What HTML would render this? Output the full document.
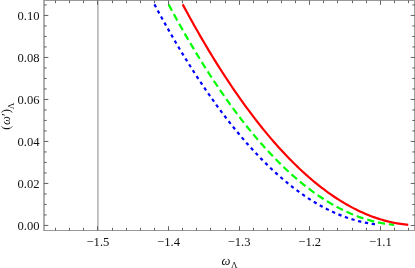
<!DOCTYPE html>
<html><head><meta charset="utf-8"><style>
html,body{margin:0;padding:0;background:#fff;}
svg{display:block;will-change:transform;transform:translateZ(0);}
text{font-family:"Liberation Serif",serif;font-size:12.6px;fill:#111;}
</style></head><body>
<svg width="415" height="268" viewBox="0 0 415 268">
<rect width="415" height="268" fill="#fff"/>
<line x1="97.95" y1="0.5" x2="97.95" y2="230.5" stroke="#898989" stroke-width="1"/>
<g fill="none" stroke-linecap="butt" stroke-width="2.2">
<path d="M154.43 4.38 L156.28 7.82 L158.12 11.23 L159.97 14.61 L161.82 17.96 L163.66 21.29 L165.51 24.59 L167.35 27.86 L169.20 31.11 L171.05 34.33 L172.89 37.52 L174.74 40.69 L176.59 43.83 L178.43 46.94 L180.28 50.02 L182.13 53.08 L183.97 56.11 L185.82 59.12 L187.67 62.09 L189.51 65.04 L191.36 67.97 L193.20 70.86 L195.05 73.73 L196.90 76.58 L198.74 79.39 L200.59 82.18 L202.44 84.94 L204.28 87.68 L206.13 90.39 L207.98 93.07 L209.82 95.72 L211.67 98.35 L213.52 100.95 L215.36 103.52 L217.21 106.07 L219.05 108.59 L220.90 111.08 L222.75 113.55 L224.59 115.99 L226.44 118.40 L228.29 120.78 L230.13 123.14 L231.98 125.47 L233.83 127.78 L235.67 130.06 L237.52 132.31 L239.37 134.53 L241.21 136.73 L243.06 138.90 L244.90 141.04 L246.75 143.15 L248.60 145.24 L250.44 147.31 L252.29 149.34 L254.14 151.35 L255.98 153.33 L257.83 155.29 L259.68 157.21 L261.52 159.11 L263.37 160.99 L265.21 162.83 L267.06 164.65 L268.91 166.45 L270.75 168.21 L272.60 169.95 L274.45 171.66 L276.29 173.35 L278.14 175.01 L279.99 176.64 L281.83 178.24 L283.68 179.82 L285.53 181.37 L287.37 182.90 L289.22 184.39 L291.06 185.86 L292.91 187.31 L294.76 188.72 L296.60 190.11 L298.45 191.47 L300.30 192.81 L302.14 194.12 L303.99 195.40 L305.84 196.65 L307.68 197.88 L309.53 199.08 L311.38 200.26 L313.22 201.40 L315.07 202.52 L316.91 203.62 L318.76 204.68 L320.61 205.72 L322.45 206.73 L324.30 207.72 L326.15 208.68 L327.99 209.61 L329.84 210.51 L331.69 211.39 L333.53 212.24 L335.38 213.07 L337.23 213.86 L339.07 214.63 L340.92 215.38 L342.76 216.09 L344.61 216.78 L346.46 217.44 L348.30 218.08 L350.15 218.69 L352.00 219.27 L353.84 219.82 L355.69 220.35 L357.54 220.85 L359.38 221.33 L361.23 221.77 L363.08 222.19 L364.92 222.59 L366.77 222.95 L368.61 223.29 L370.46 223.61 L372.31 223.89 L374.15 224.15 L376.00 224.38" stroke="#0000ff" stroke-dasharray="3.3 3.63"/>
<path d="M168.55 4.38 L170.43 7.88 L172.31 11.35 L174.19 14.79 L176.07 18.21 L177.95 21.59 L179.83 24.95 L181.71 28.28 L183.59 31.58 L185.47 34.86 L187.35 38.10 L189.23 41.32 L191.11 44.51 L192.99 47.67 L194.87 50.81 L196.75 53.92 L198.63 57.00 L200.51 60.05 L202.39 63.07 L204.27 66.06 L206.15 69.03 L208.04 71.97 L209.92 74.88 L211.80 77.77 L213.68 80.62 L215.56 83.45 L217.44 86.25 L219.32 89.02 L221.20 91.76 L223.08 94.48 L224.96 97.17 L226.84 99.83 L228.72 102.46 L230.60 105.07 L232.48 107.64 L234.36 110.19 L236.24 112.71 L238.12 115.20 L240.00 117.67 L241.88 120.11 L243.76 122.52 L245.64 124.90 L247.52 127.25 L249.40 129.57 L251.28 131.87 L253.16 134.14 L255.04 136.38 L256.92 138.60 L258.80 140.78 L260.68 142.94 L262.56 145.07 L264.44 147.17 L266.32 149.25 L268.20 151.29 L270.08 153.31 L271.96 155.30 L273.84 157.26 L275.72 159.20 L277.60 161.10 L279.48 162.98 L281.37 164.83 L283.25 166.66 L285.13 168.45 L287.01 170.22 L288.89 171.96 L290.77 173.67 L292.65 175.35 L294.53 177.01 L296.41 178.63 L298.29 180.23 L300.17 181.81 L302.05 183.35 L303.93 184.87 L305.81 186.35 L307.69 187.81 L309.57 189.24 L311.45 190.65 L313.33 192.03 L315.21 193.37 L317.09 194.69 L318.97 195.99 L320.85 197.25 L322.73 198.49 L324.61 199.70 L326.49 200.88 L328.37 202.03 L330.25 203.16 L332.13 204.25 L334.01 205.32 L335.89 206.36 L337.77 207.38 L339.65 208.36 L341.53 209.32 L343.41 210.25 L345.29 211.15 L347.17 212.02 L349.05 212.87 L350.93 213.69 L352.81 214.48 L354.69 215.24 L356.58 215.97 L358.46 216.68 L360.34 217.36 L362.22 218.01 L364.10 218.63 L365.98 219.23 L367.86 219.79 L369.74 220.33 L371.62 220.84 L373.50 221.33 L375.38 221.78 L377.26 222.21 L379.14 222.61 L381.02 222.98 L382.90 223.32 L384.78 223.64 L386.66 223.93 L388.54 224.19 L390.42 224.42 L392.30 224.62 L394.18 224.80" stroke="#00ff00" stroke-dasharray="7.2 3.9"/>
<path d="M182.67 4.38 L184.55 7.88 L186.43 11.35 L188.31 14.79 L190.19 18.21 L192.07 21.59 L193.95 24.95 L195.83 28.28 L197.71 31.58 L199.59 34.86 L201.47 38.10 L203.35 41.32 L205.23 44.51 L207.11 47.67 L208.99 50.81 L210.87 53.92 L212.75 57.00 L214.63 60.05 L216.51 63.07 L218.39 66.06 L220.27 69.03 L222.16 71.97 L224.04 74.88 L225.92 77.77 L227.80 80.62 L229.68 83.45 L231.56 86.25 L233.44 89.02 L235.32 91.76 L237.20 94.48 L239.08 97.17 L240.96 99.83 L242.84 102.46 L244.72 105.07 L246.60 107.64 L248.48 110.19 L250.36 112.71 L252.24 115.20 L254.12 117.67 L256.00 120.11 L257.88 122.52 L259.76 124.90 L261.64 127.25 L263.52 129.57 L265.40 131.87 L267.28 134.14 L269.16 136.38 L271.04 138.60 L272.92 140.78 L274.80 142.94 L276.68 145.07 L278.56 147.17 L280.44 149.25 L282.32 151.29 L284.20 153.31 L286.08 155.30 L287.96 157.26 L289.84 159.20 L291.72 161.10 L293.60 162.98 L295.49 164.83 L297.37 166.66 L299.25 168.45 L301.13 170.22 L303.01 171.96 L304.89 173.67 L306.77 175.35 L308.65 177.01 L310.53 178.63 L312.41 180.23 L314.29 181.81 L316.17 183.35 L318.05 184.87 L319.93 186.35 L321.81 187.81 L323.69 189.24 L325.57 190.65 L327.45 192.03 L329.33 193.37 L331.21 194.69 L333.09 195.99 L334.97 197.25 L336.85 198.49 L338.73 199.70 L340.61 200.88 L342.49 202.03 L344.37 203.16 L346.25 204.25 L348.13 205.32 L350.01 206.36 L351.89 207.38 L353.77 208.36 L355.65 209.32 L357.53 210.25 L359.41 211.15 L361.29 212.02 L363.17 212.87 L365.05 213.69 L366.93 214.48 L368.81 215.24 L370.70 215.97 L372.58 216.68 L374.46 217.36 L376.34 218.01 L378.22 218.63 L380.10 219.23 L381.98 219.79 L383.86 220.33 L385.74 220.84 L387.62 221.33 L389.50 221.78 L391.38 222.21 L393.26 222.61 L395.14 222.98 L397.02 223.32 L398.90 223.64 L400.78 223.93 L402.66 224.19 L404.54 224.42 L406.42 224.62 L408.30 224.80" stroke="#ff0000"/>
</g>
<g stroke="#616161" stroke-width="1">
<line x1="44.0" y1="0" x2="44.0" y2="231"/>
<line x1="414.5" y1="0" x2="414.5" y2="231" stroke="#a0a0a0"/>
<line x1="43.5" y1="0.5" x2="415" y2="0.5" stroke="#999"/>
<line x1="43.5" y1="230.5" x2="415" y2="230.5" stroke="#999"/>
<line x1="55.50" y1="230.50" x2="55.50" y2="227.80"/><line x1="55.50" y1="0.50" x2="55.50" y2="3.20"/><line x1="69.50" y1="230.50" x2="69.50" y2="227.80"/><line x1="69.50" y1="0.50" x2="69.50" y2="3.20"/><line x1="83.50" y1="230.50" x2="83.50" y2="227.80"/><line x1="83.50" y1="0.50" x2="83.50" y2="3.20"/><line x1="97.50" y1="230.50" x2="97.50" y2="226.20"/><line x1="97.50" y1="0.50" x2="97.50" y2="4.80"/><line x1="112.50" y1="230.50" x2="112.50" y2="227.80"/><line x1="112.50" y1="0.50" x2="112.50" y2="3.20"/><line x1="126.50" y1="230.50" x2="126.50" y2="227.80"/><line x1="126.50" y1="0.50" x2="126.50" y2="3.20"/><line x1="140.50" y1="230.50" x2="140.50" y2="227.80"/><line x1="140.50" y1="0.50" x2="140.50" y2="3.20"/><line x1="154.50" y1="230.50" x2="154.50" y2="227.80"/><line x1="154.50" y1="0.50" x2="154.50" y2="3.20"/><line x1="168.50" y1="230.50" x2="168.50" y2="226.20"/><line x1="168.50" y1="0.50" x2="168.50" y2="4.80"/><line x1="182.50" y1="230.50" x2="182.50" y2="227.80"/><line x1="182.50" y1="0.50" x2="182.50" y2="3.20"/><line x1="196.50" y1="230.50" x2="196.50" y2="227.80"/><line x1="196.50" y1="0.50" x2="196.50" y2="3.20"/><line x1="210.50" y1="230.50" x2="210.50" y2="227.80"/><line x1="210.50" y1="0.50" x2="210.50" y2="3.20"/><line x1="225.50" y1="230.50" x2="225.50" y2="227.80"/><line x1="225.50" y1="0.50" x2="225.50" y2="3.20"/><line x1="239.50" y1="230.50" x2="239.50" y2="226.20"/><line x1="239.50" y1="0.50" x2="239.50" y2="4.80"/><line x1="253.50" y1="230.50" x2="253.50" y2="227.80"/><line x1="253.50" y1="0.50" x2="253.50" y2="3.20"/><line x1="267.50" y1="230.50" x2="267.50" y2="227.80"/><line x1="267.50" y1="0.50" x2="267.50" y2="3.20"/><line x1="281.50" y1="230.50" x2="281.50" y2="227.80"/><line x1="281.50" y1="0.50" x2="281.50" y2="3.20"/><line x1="295.50" y1="230.50" x2="295.50" y2="227.80"/><line x1="295.50" y1="0.50" x2="295.50" y2="3.20"/><line x1="309.50" y1="230.50" x2="309.50" y2="226.20"/><line x1="309.50" y1="0.50" x2="309.50" y2="4.80"/><line x1="323.50" y1="230.50" x2="323.50" y2="227.80"/><line x1="323.50" y1="0.50" x2="323.50" y2="3.20"/><line x1="337.50" y1="230.50" x2="337.50" y2="227.80"/><line x1="337.50" y1="0.50" x2="337.50" y2="3.20"/><line x1="352.50" y1="230.50" x2="352.50" y2="227.80"/><line x1="352.50" y1="0.50" x2="352.50" y2="3.20"/><line x1="366.50" y1="230.50" x2="366.50" y2="227.80"/><line x1="366.50" y1="0.50" x2="366.50" y2="3.20"/><line x1="380.50" y1="230.50" x2="380.50" y2="226.20"/><line x1="380.50" y1="0.50" x2="380.50" y2="4.80"/><line x1="394.50" y1="230.50" x2="394.50" y2="227.80"/><line x1="394.50" y1="0.50" x2="394.50" y2="3.20"/><line x1="408.50" y1="230.50" x2="408.50" y2="227.80"/><line x1="408.50" y1="0.50" x2="408.50" y2="3.20"/><line x1="44.00" y1="225.45" x2="48.30" y2="225.45"/><line x1="415.00" y1="225.45" x2="410.70" y2="225.45"/><line x1="44.00" y1="214.95" x2="46.70" y2="214.95"/><line x1="415.00" y1="214.95" x2="412.30" y2="214.95"/><line x1="44.00" y1="204.45" x2="46.70" y2="204.45"/><line x1="415.00" y1="204.45" x2="412.30" y2="204.45"/><line x1="44.00" y1="193.95" x2="46.70" y2="193.95"/><line x1="415.00" y1="193.95" x2="412.30" y2="193.95"/><line x1="44.00" y1="183.45" x2="48.30" y2="183.45"/><line x1="415.00" y1="183.45" x2="410.70" y2="183.45"/><line x1="44.00" y1="172.95" x2="46.70" y2="172.95"/><line x1="415.00" y1="172.95" x2="412.30" y2="172.95"/><line x1="44.00" y1="162.45" x2="46.70" y2="162.45"/><line x1="415.00" y1="162.45" x2="412.30" y2="162.45"/><line x1="44.00" y1="151.95" x2="46.70" y2="151.95"/><line x1="415.00" y1="151.95" x2="412.30" y2="151.95"/><line x1="44.00" y1="141.45" x2="48.30" y2="141.45"/><line x1="415.00" y1="141.45" x2="410.70" y2="141.45"/><line x1="44.00" y1="130.95" x2="46.70" y2="130.95"/><line x1="415.00" y1="130.95" x2="412.30" y2="130.95"/><line x1="44.00" y1="120.45" x2="46.70" y2="120.45"/><line x1="415.00" y1="120.45" x2="412.30" y2="120.45"/><line x1="44.00" y1="109.95" x2="46.70" y2="109.95"/><line x1="415.00" y1="109.95" x2="412.30" y2="109.95"/><line x1="44.00" y1="99.45" x2="48.30" y2="99.45"/><line x1="415.00" y1="99.45" x2="410.70" y2="99.45"/><line x1="44.00" y1="88.95" x2="46.70" y2="88.95"/><line x1="415.00" y1="88.95" x2="412.30" y2="88.95"/><line x1="44.00" y1="78.45" x2="46.70" y2="78.45"/><line x1="415.00" y1="78.45" x2="412.30" y2="78.45"/><line x1="44.00" y1="67.95" x2="46.70" y2="67.95"/><line x1="415.00" y1="67.95" x2="412.30" y2="67.95"/><line x1="44.00" y1="57.45" x2="48.30" y2="57.45"/><line x1="415.00" y1="57.45" x2="410.70" y2="57.45"/><line x1="44.00" y1="46.95" x2="46.70" y2="46.95"/><line x1="415.00" y1="46.95" x2="412.30" y2="46.95"/><line x1="44.00" y1="36.45" x2="46.70" y2="36.45"/><line x1="415.00" y1="36.45" x2="412.30" y2="36.45"/><line x1="44.00" y1="25.95" x2="46.70" y2="25.95"/><line x1="415.00" y1="25.95" x2="412.30" y2="25.95"/><line x1="44.00" y1="15.45" x2="48.30" y2="15.45"/><line x1="415.00" y1="15.45" x2="410.70" y2="15.45"/><line x1="44.00" y1="4.95" x2="46.70" y2="4.95"/><line x1="415.00" y1="4.95" x2="412.30" y2="4.95"/>
</g>
<text x="97.95" y="245.8" text-anchor="middle">−1.5</text><text x="168.55" y="245.8" text-anchor="middle">−1.4</text><text x="239.15" y="245.8" text-anchor="middle">−1.3</text><text x="309.75" y="245.8" text-anchor="middle">−1.2</text><text x="380.35" y="245.8" text-anchor="middle">−1.1</text>
<text x="39.5" y="229.60" text-anchor="end">0.00</text><text x="39.5" y="187.60" text-anchor="end">0.02</text><text x="39.5" y="145.60" text-anchor="end">0.04</text><text x="39.5" y="103.60" text-anchor="end">0.06</text><text x="39.5" y="61.60" text-anchor="end">0.08</text><text x="39.5" y="19.60" text-anchor="end">0.10</text>
<text x="221.6" y="265" font-style="italic">ω<tspan font-style="normal" font-size="9" dx="0.4" dy="3.1">Λ</tspan></text>
<text transform="translate(10.4,129.8) rotate(-90)">(<tspan font-style="italic" dx="0.6">ω</tspan>′)<tspan font-size="9" dy="3.1">Λ</tspan></text>
</svg>
</body></html>
